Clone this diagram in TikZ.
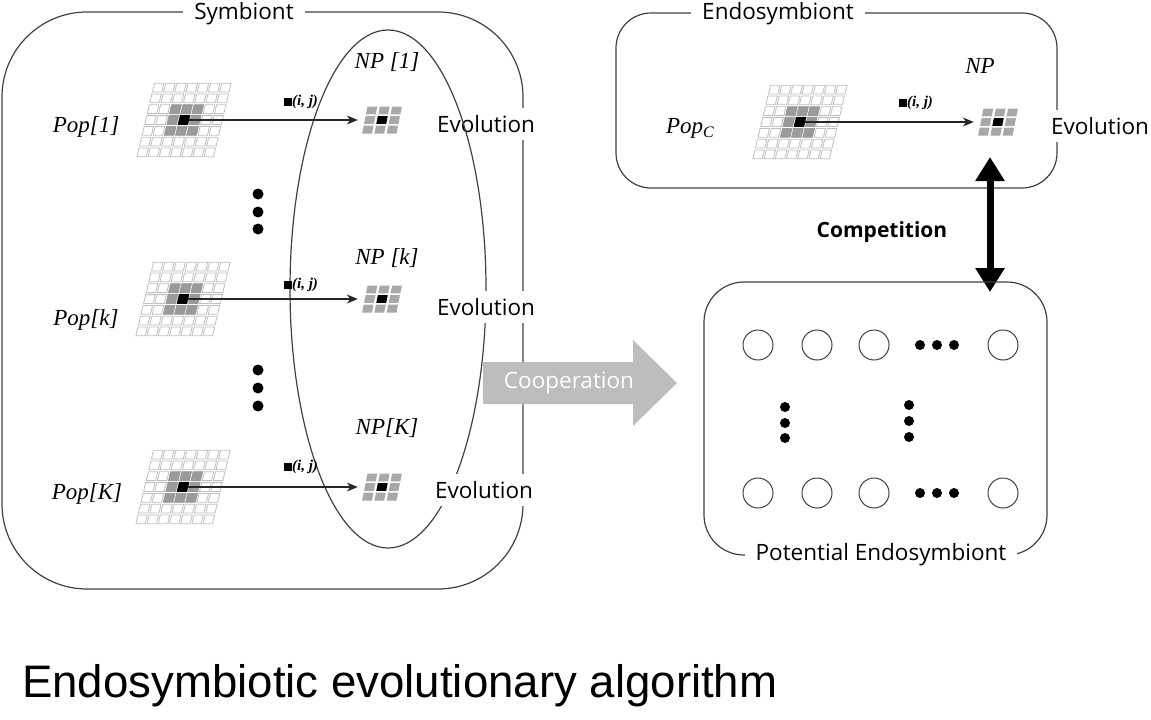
\documentclass[tikz,border=0pt]{standalone}
\usepackage{fontspec}
\setmainfont{Open Sans}
\newfontfamily\lserif{Liberation Serif}
\newfontfamily\larial{Liberation Sans}
\usetikzlibrary{arrows.meta,shapes.geometric}
\definecolor{boxline}{HTML}{404040}
\definecolor{cellline}{HTML}{BEBEBE}
\definecolor{cellgray}{HTML}{9A9A9A}
\definecolor{npgray}{HTML}{A8A8A8}
\definecolor{coopgray}{HTML}{BDBDBD}
\newcommand{\fsz}[1]{\fontsize{#1}{#1}\selectfont}
\newcommand{\cellq}[4]{% center x, center y, half w, half h
  (#1-#3,#2-#4) -- (#1+#3,#2-#4) -- (#1+#3,#2+#4) -- (#1-#3,#2+#4) -- cycle}
\newcommand{\biggrid}[2]{%
  \begin{scope}[shift={(#1,#2)}, xslant=0.24]
    \foreach \c in {-3,...,3}{\foreach \r in {-3,...,3}{%
      \draw[cellline, line width=0.8pt] \cellq{\c*11.2}{\r*10.8}{4.7}{4.4};}}
    \foreach \c in {-1,0,1}{\foreach \r in {-1,0,1}{%
      \fill[cellgray] \cellq{\c*11.2}{\r*10.8}{5.1}{4.8};}}
    \fill[black] \cellq{0}{0}{5.1}{4.8};
  \end{scope}}
\newcommand{\smallgrid}[2]{%
  \begin{scope}[shift={(#1,#2)}, xslant=0.2]
    \foreach \c in {-1,0,1}{\foreach \r in {-1,0,1}{%
      \fill[npgray] \cellq{\c*12.3}{\r*9.6}{4.9}{3.9};}}
    \fill[black] \cellq{0}{0}{4.9}{3.9};
  \end{scope}}
\begin{document}
\begin{tikzpicture}[x=1pt,y=-1pt,
  frame/.style={draw=boxline, line width=1.2pt},
  lbl/.style={font=\fsz{22.5}, inner sep=0pt},
  gaplbl/.style={lbl, fill=white, inner xsep=11pt, inner ysep=7pt},
  poplbl/.style={font=\lserif\itshape\fsz{23}, inner sep=0pt},
  ijlbl/.style={font=\lserif\bfseries\itshape\fsz{15}, inner sep=0pt},
  flow/.style={draw=black!85, line width=1.2pt, -{Stealth[length=11pt,width=9pt]}},
  srccell/.style={inner sep=0pt, minimum size=9pt},
  npcell/.style={inner sep=0pt, minimum width=48pt, minimum height=30pt},
  pe/.style={circle, draw=boxline, line width=1pt, minimum size=30pt, inner sep=0pt},
]
\useasboundingbox (0,0) rectangle (1151,720);

% ---------- Symbiont ----------
\draw[frame, rounded corners=85pt] (2,12) rectangle (523,589);
\node[gaplbl] (symlbl) at (244,14) {Symbiont};
\node[gaplbl, inner xsep=2pt] (evo1) at (486,124) {Evolution};
\node[ellipse, frame, minimum width=196pt, minimum height=518pt, inner sep=0pt] (ring) at (388,289) {};
\node[gaplbl, inner xsep=2pt] (evo2) at (486,307) {Evolution};
\node[gaplbl, inner xsep=2pt] (evo3) at (484,490) {Evolution};

% grids
\biggrid{184}{120}
\biggrid{183}{299}
\biggrid{183}{487}
\smallgrid{382}{120}
\smallgrid{382}{299}
\smallgrid{382}{487}
\node[srccell] (s1) at (184,120) {};
\node[srccell] (s2) at (183,299) {};
\node[srccell] (s3) at (183,487) {};
\node[npcell] (n1) at (382,120) {};
\node[npcell] (n2) at (382,299) {};
\node[npcell] (n3) at (382,487) {};
\draw[flow] (s1.east) -- (n1.west);
\draw[flow] (s2.east) -- (n2.west);
\draw[flow] (s3.east) -- (n3.west);

\node[poplbl] (pop1) at (86,127) {Pop[1]};
\node[poplbl] (popk) at (86,320) {Pop[k]};
\node[poplbl] (popK) at (87,494) {Pop[K]};
\node[poplbl] (np1) at (387,62) {NP [1]};
\node[poplbl] (npk) at (387,258) {NP [k]};
\node[poplbl] (npK) at (387,428) {NP[K]};
\node[ijlbl] (ij1) at (301,102) {\rule{8pt}{8pt}(i, j)};
\node[ijlbl] (ij2) at (301,285) {\rule{8pt}{8pt}(i, j)};
\node[ijlbl] (ij3) at (301,467) {\rule{8pt}{8pt}(i, j)};

\foreach \y in {194,212,229,370,388,406} \fill (258,\y) circle (5.5);

% ---------- Cooperation arrow ----------
\fill[coopgray] (483,362) -- (633,362) -- (633,340) -- (677,383) -- (633,426) -- (633,404) -- (483,404) -- cycle;
\node[lbl, text=white] (coop) at (569,383) {Cooperation};

% ---------- Endosymbiont ----------
\draw[frame, rounded corners=35pt] (616,13) rectangle (1057,188);
\node[gaplbl] (endolbl) at (778,14) {Endosymbiont};
\node[gaplbl, inner xsep=2pt] (evoE) at (1100,126) {Evolution};
\biggrid{800}{122}
\smallgrid{998}{122}
\node[srccell] (sE) at (800,122) {};
\node[npcell] (nE) at (998,122) {};
\draw[flow] (sE.east) -- (nE.west);
\node[poplbl] (popc) at (690,128) {Pop\raisebox{-4pt}{\fsz{16}C}};
\node[poplbl] (npE) at (980,66) {NP};
\node[ijlbl] (ijE) at (916,103) {\rule{8pt}{8pt}(i, j)};

% ---------- Competition ----------
\coordinate (ctop) at (990,157);
\coordinate (cbot) at (990,292);
\draw[line width=7pt, {Triangle[length=24pt,width=28pt]}-{Triangle[length=24pt,width=28pt]}] (ctop) -- (cbot);
\node[font=\bfseries\fsz{21}, inner sep=0pt] (comp) at (882,232) {Competition};

% ---------- Potential Endosymbiont ----------
\draw[frame, rounded corners=40pt] (704,282) rectangle (1047,555);
\node[gaplbl] (potlbl) at (881,555) {Potential Endosymbiont};
\foreach \x/\n in {758/a,817/b,874/c,1003/d}{
  \node[pe] (t\n) at (\x,345) {};
  \node[pe] (b\n) at (\x,493) {};}
\foreach \x in {920,937,954}{\fill (\x,345) circle (5); \fill (\x,493) circle (5);}
\foreach \y in {407,423,438} \fill (785,\y) circle (5);
\foreach \y in {405,421,437} \fill (909,\y) circle (5);

% ---------- Title ----------
\node[font=\larial\fsz{45.6}, anchor=base west, inner sep=0pt] (title) at (22,697) {Endosymbiotic evolutionary algorithm};
\end{tikzpicture}
\end{document}
